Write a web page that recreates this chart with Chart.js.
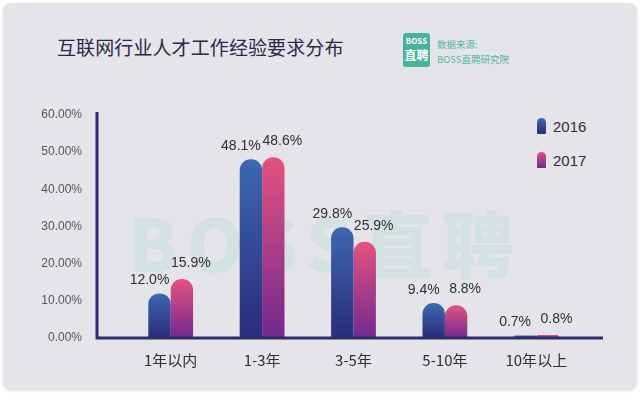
<!DOCTYPE html>
<html>
<head>
<meta charset="utf-8">
<script src="https://cdn.jsdelivr.net/npm/chart.js@4/dist/chart.umd.min.js"></script>
<style>
  html, body { margin: 0; padding: 0; background: #fff; }
  #wrap { position: relative; width: 640px; height: 396px; overflow: hidden; }
  #panel {
    position: absolute; left: 3px; top: 3px; width: 634px; height: 387px;
    background: #e5e4e9; border-radius: 8px; box-shadow: 0 1px 3px rgba(0,0,0,0.12);
  }
  #title {
    position: absolute; left: 57px; top: 33px; font-family: "Noto Sans CJK SC", sans-serif;
    font-size: 19px; color: #2a2944; letter-spacing: 0.1px; white-space: nowrap;
  }
  #logo {
    position: absolute; left: 403px; top: 33px; width: 27px; height: 34px; border-radius: 3px;
    background: #45b49b; color: #fff; text-align: center; font-family: "Noto Sans CJK SC", sans-serif;
  }
  #logo .a { font-size: 8px; font-weight: 700; line-height: 12px; padding-top: 2px; }
  #logo .b { font-size: 12px; font-weight: 700; line-height: 15px; }
  #source {
    position: absolute; left: 437px; top: 37px; font-family: "Noto Sans CJK SC", sans-serif;
    font-size: 9.5px; color: #55b7a2; line-height: 15px; white-space: nowrap;
  }
  #watermark {
    position: absolute; left: 128px; top: 188px; font-family: "Noto Sans CJK SC", sans-serif;
    font-weight: 900; font-size: 72px; color: rgba(140, 215, 190, 0.2); white-space: nowrap;
    letter-spacing: 9px;
  }
  #legend { position: absolute; left: 537px; top: 116px; font-family: "Liberation Sans", Arial, sans-serif; }
  .item { display: flex; align-items: center; height: 20px; margin-bottom: 14px; font-size: 15px; color: #2e2e3a; }
  .sw { width: 9px; height: 16px; border-radius: 5px 5px 1px 1px; margin-right: 7px; }
  canvas { position: absolute; left: 0; top: 0; }
</style>
</head>
<body>
<div id="wrap">
  <div id="panel"></div>
  <div id="title">互联网行业人才工作经验要求分布</div>
  <div id="logo"><div class="a">BOSS</div><div class="b">直聘</div></div>
  <div id="source">数据来源:<br>BOSS直聘研究院</div>
  <div id="watermark">BOSS直聘</div>
  <div id="legend"></div>
  <canvas id="chart" width="640" height="396"></canvas>
</div>
<script>
const categories = ["1年以内", "1-3年", "3-5年", "5-10年", "10年以上"];
const seriesNames = ["2016", "2017"];
const values2016 = [12.0, 48.1, 29.8, 9.4, 0.7];
const values2017 = [15.9, 48.6, 25.9, 8.8, 0.8];
const yTicks = [0, 10, 20, 30, 40, 50, 60];

const colorStops = [
  ["#3d68b0", "#2a2b7b"],
  ["#e4527f", "#72298f"]
];

function barGradient(ctx, i){
  const chart = ctx.chart;
  const y = chart.scales && chart.scales.y;
  if(!chart.chartArea || !y || ctx.type !== "data") return colorStops[i][0];
  const top = y.getPixelForValue(ctx.raw);
  const bottom = y.getPixelForValue(0);
  const g = chart.ctx.createLinearGradient(0, top, 0, bottom);
  g.addColorStop(0, colorStops[i][0]);
  g.addColorStop(1, colorStops[i][1]);
  return g;
}

// legend swatches
const legend = document.getElementById("legend");
seriesNames.forEach((name, i) => {
  const row = document.createElement("div");
  row.className = "item";
  row.innerHTML = `<span class="sw" style="background:linear-gradient(${colorStops[i][0]},${colorStops[i][1]})"></span>${name}`;
  legend.appendChild(row);
});

const axisLines = {
  id: "axisLines",
  afterDatasetsDraw(chart){
    const c = chart.ctx, a = chart.chartArea;
    c.save();
    c.strokeStyle = "#2b2d6c";
    c.lineWidth = 3;
    c.beginPath();
    c.moveTo(97, 112);
    c.lineTo(97, a.bottom);
    c.lineTo(603, a.bottom);
    c.stroke();
    c.restore();
  }
};

const valueLabels = {
  id: "valueLabels",
  afterDatasetsDraw(chart){
    const c = chart.ctx;
    c.save();
    c.font = "14px 'Liberation Sans', Arial, sans-serif";
    c.fillStyle = "#2f2f3a";
    c.textAlign = "center";
    c.textBaseline = "middle";
    chart.data.datasets.forEach((ds, di) => {
      const meta = chart.getDatasetMeta(di);
      const dx = di === 0 ? -10 : 9;
      const dy = di === 0 ? -13 : -16;
      meta.data.forEach((bar, j) => {
        c.fillText(ds.data[j].toFixed(1) + "%", bar.x + dx, bar.y + dy);
      });
    });
    c.restore();
  }
};

new Chart(document.getElementById("chart"), {
  type: "bar",
  data: {
    labels: categories,
    datasets: [
      { label: seriesNames[0], data: values2016, backgroundColor: ctx => barGradient(ctx, 0) },
      { label: seriesNames[1], data: values2017, backgroundColor: ctx => barGradient(ctx, 1) }
    ]
  },
  options: {
    responsive: false,
    animation: false,
    layout: { padding: { top: 115, right: 58, left: 0, bottom: 0 } },
    datasets: {
      bar: {
        categoryPercentage: 0.49,
        barPercentage: 1.0,
        borderRadius: { topLeft: 11, topRight: 11, bottomLeft: 0, bottomRight: 0 },
        borderSkipped: "bottom"
      }
    },
    plugins: { legend: { display: false }, tooltip: { enabled: false } },
    scales: {
      x: {
        grid: { display: false, drawTicks: false },
        border: { display: false },
        ticks: { color: "#2e2e3a", font: { size: 15, family: "'Noto Sans CJK SC', sans-serif" }, padding: 13 },
        afterFit(scale){ scale.height = 58; }
      },
      y: {
        min: 0, max: 60,
        grid: { display: false, drawTicks: false },
        border: { display: false },
        afterBuildTicks(scale){ scale.ticks = yTicks.map(v => ({ value: v })); },
        ticks: {
          color: "#55555f",
          font: { size: 12, family: "'Liberation Sans', Arial, sans-serif" },
          padding: 43,
          callback: v => v.toFixed(2) + "%"
        },
        afterFit(scale){ scale.width = 125; }
      }
    }
  },
  plugins: [axisLines, valueLabels]
});
</script>
</body>
</html>
